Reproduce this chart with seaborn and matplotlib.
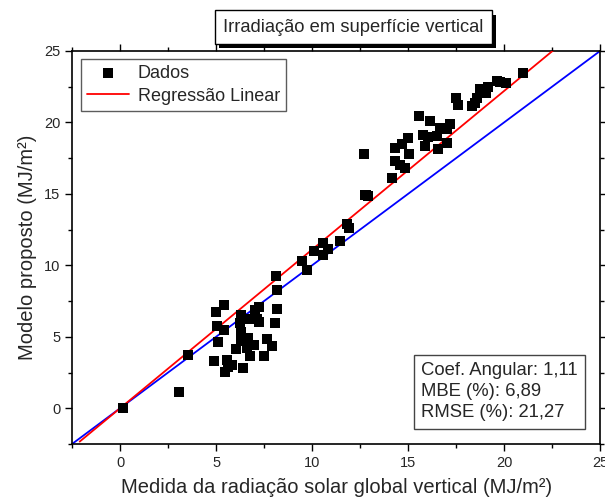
import numpy as np
import matplotlib
matplotlib.use("Agg")
import matplotlib.pyplot as plt
import matplotlib.patheffects as pe
from matplotlib.ticker import MultipleLocator
import seaborn as sns

medida = [0.17, 3.07, 3.52, 4.88, 5.47, 5.64, 5.83, 5.56, 6.39, 6.77, 7.52,
          6.04, 6.60, 6.98, 7.93, 7.64, 5.09, 6.28, 6.65, 5.40, 6.28, 5.03,
          8.09, 7.26, 7.12, 6.25, 6.63, 8.19, 6.28, 7.05, 7.22, 4.98, 5.40,
          8.19, 8.13, 9.72, 9.46, 10.56, 10.12, 10.82, 10.56, 11.46, 11.93,
          11.81, 12.81, 12.76, 12.93, 14.18, 14.84, 14.58, 14.32, 15.07, 12.71,
          16.55, 17.05, 15.90, 14.32, 14.67, 15.02, 16.53, 16.02, 15.80, 17.01,
          16.67, 17.19, 16.15, 15.59, 17.59, 17.50, 18.35, 18.47, 18.58, 19.05,
          18.75, 19.18, 20.09, 19.79, 19.62, 20.97]
modelo = [0.05, 1.15, 3.72, 3.30, 2.55, 2.86, 3.00, 3.37, 2.81, 3.65, 3.65,
          4.14, 4.19, 4.42, 4.38, 4.85, 4.66, 4.71, 4.94, 5.50, 5.36, 5.78,
          5.95, 6.02, 6.23, 5.95, 6.25, 6.95, 6.53, 6.88, 7.11, 6.72, 7.23,
          8.29, 9.22, 9.69, 10.32, 10.74, 10.98, 11.14, 11.56, 11.68, 12.62,
          12.90, 14.89, 14.91, 14.84, 16.13, 16.78, 17.02, 17.30, 17.77, 17.82,
          18.17, 18.54, 18.35, 18.19, 18.52, 18.89, 19.05, 18.98, 19.12, 19.52,
          19.59, 19.87, 20.11, 20.46, 21.21, 21.68, 21.16, 21.35, 21.68, 22.03,
          22.33, 22.45, 22.73, 22.80, 22.87, 23.43]

coef_angular = 1.11
reg_x = [-2.1, 22.6]
ref_x = [-2.5, 25]
stats = ["Coef. Angular: 1,11", "MBE (%): 6,89", "RMSE (%): 21,27"]

sns.set_style("ticks")
plt.rcParams['font.family'] = ['Liberation Sans', 'DejaVu Sans']

fig = plt.figure(figsize=(6.05, 5.04), dpi=100)
ax = fig.add_axes([0.119, 0.119, 0.873, 0.780])

# 1:1 line and regression line
ax.plot(ref_x, ref_x, color='blue', lw=1.3, zorder=2)
ax.plot(reg_x, [coef_angular * v for v in reg_x], color='red', lw=1.3,
        label='Regressão Linear', zorder=3)
sns.scatterplot(x=medida, y=modelo, marker='s', color='black', s=42,
                linewidth=0, label='Dados', ax=ax, zorder=4)

ax.set_xlim(-2.5, 25)
ax.set_ylim(-2.5, 25)
ax.xaxis.set_major_locator(MultipleLocator(5))
ax.yaxis.set_major_locator(MultipleLocator(5))
ax.xaxis.set_minor_locator(MultipleLocator(2.5))
ax.yaxis.set_minor_locator(MultipleLocator(2.5))
ax.tick_params(which='both', direction='out', top=True, right=True,
               labelsize=10.5, width=1, color='black')
ax.tick_params(which='major', length=5)
ax.tick_params(which='minor', length=3)
for s in ax.spines.values():
    s.set_visible(True)
    s.set_linewidth(1.2)
    s.set_color('black')

ax.set_xlabel('Medida da radiação solar global vertical (MJ/m²)', fontsize=14.5, labelpad=6)
ax.set_ylabel('Modelo proposto (MJ/m²)', fontsize=14.5, labelpad=5)

handles, labels = ax.get_legend_handles_labels()
order = [labels.index('Dados'), labels.index('Regressão Linear')]
leg = ax.legend([handles[i] for i in order], [labels[i] for i in order],
                loc='upper left', bbox_to_anchor=(0.017, 0.98), borderaxespad=0,
                fontsize=13, frameon=True, fancybox=False, edgecolor='#333333',
                handlelength=2.3, handletextpad=0.5, borderpad=0.35,
                labelspacing=0.3)
leg.get_frame().set_linewidth(1.0)

ax.text(0.661, 0.058, "\n".join(stats), transform=ax.transAxes, fontsize=13.3,
        ha='left', va='bottom', linespacing=1.32,
        bbox=dict(boxstyle='square,pad=0.4', fc='white', ec='#444444', lw=1.0))

t = fig.text(0.584, 0.946, 'Irradiação em superfície vertical', fontsize=13.2,
             ha='center', va='center',
             bbox=dict(boxstyle='square,pad=0.45', fc='white', ec='black', lw=1.0))
t.get_bbox_patch().set_path_effects([
    pe.SimplePatchShadow(offset=(3, -3), shadow_rgbFace='black', alpha=1.0),
    pe.Normal()])

fig.savefig('out.png', dpi=100)
